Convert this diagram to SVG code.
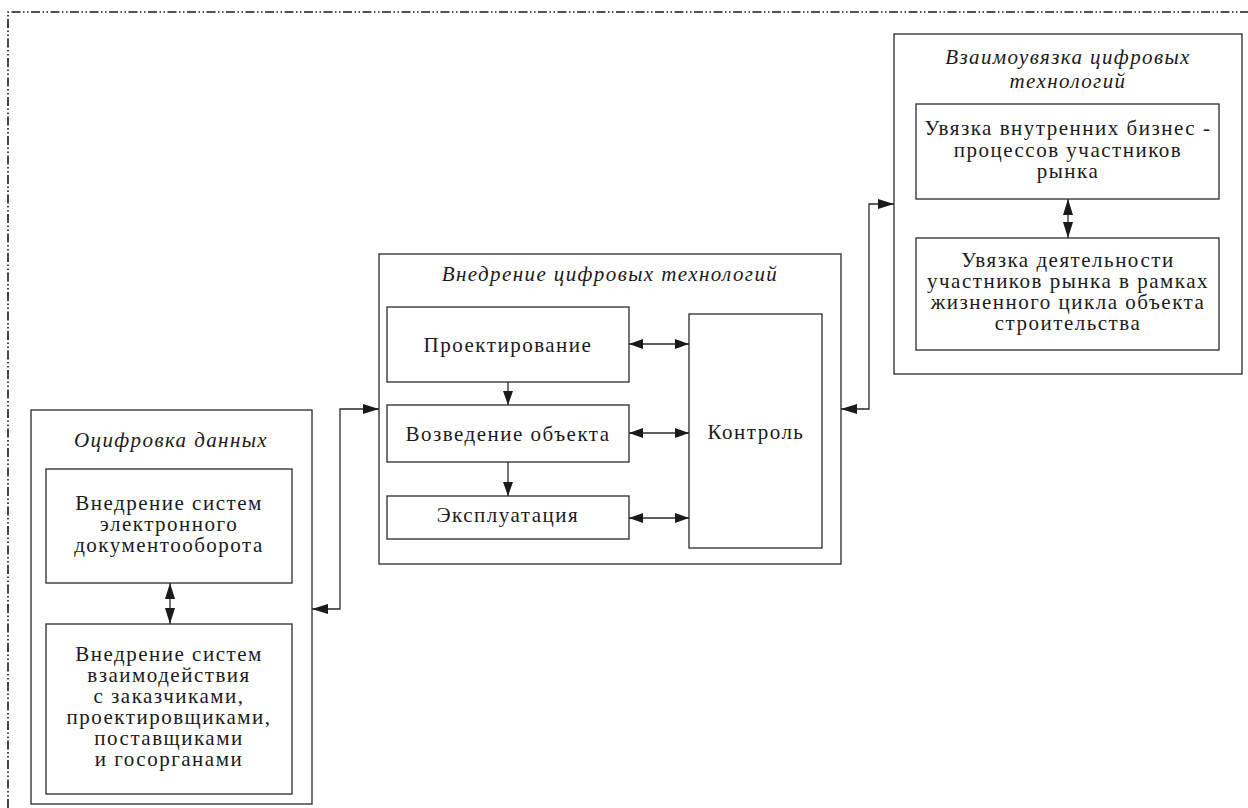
<svg xmlns="http://www.w3.org/2000/svg" width="1248" height="808" viewBox="0 0 1248 808">
<style>
.box{fill:#fff;stroke:#2a2a2a;stroke-width:1.3}
.t{font-family:"Liberation Serif","Times New Roman",serif;font-size:21px;fill:#1a1a1a;text-anchor:middle;letter-spacing:1.5px}
.ti{font-family:"Liberation Serif","Times New Roman",serif;font-size:21px;font-style:italic;fill:#1a1a1a;text-anchor:middle;letter-spacing:1.4px}
.ln{fill:none;stroke:#2a2a2a;stroke-width:1.3}
.frame{fill:none;stroke:#1a1a1a;stroke-width:1.6;stroke-dasharray:9 2.5 1.5 2.5 1.5 2.5}
</style>
<defs>
<marker id="a" markerUnits="userSpaceOnUse" markerWidth="16" markerHeight="10" refX="16" refY="5" orient="auto-start-reverse">
<path d="M0,0 L16,5 L0,10 z" fill="#1a1a1a"/>
</marker>
<marker id="s" markerUnits="userSpaceOnUse" markerWidth="14" markerHeight="10" refX="14" refY="5" orient="auto-start-reverse">
<path d="M0,0 L14,5 L0,10 z" fill="#1a1a1a"/>
</marker>
</defs>
<rect width="1248" height="808" fill="#fff"/>
<path class="frame" d="M8,808 V12 H1248"/>

<g id="digitization">
<rect class="box" x="31" y="410" width="281" height="394"/>
<text class="ti" x="171" y="447">Оцифровка данных</text>
</g>
<g id="edo">
<rect class="box" x="46" y="469" width="246" height="114"/>
<text class="t" x="169" y="510">Внедрение систем</text>
<text class="t" x="169" y="531">электронного</text>
<text class="t" x="169" y="552">документооборота</text>
</g>
<g id="interaction">
<rect class="box" x="46" y="624" width="246" height="170"/>
<text class="t" x="169" y="661">Внедрение систем</text>
<text class="t" x="169" y="682">взаимодействия</text>
<text class="t" x="169" y="703">с заказчиками,</text>
<text class="t" x="169" y="724">проектировщиками,</text>
<text class="t" x="169" y="745">поставщиками</text>
<text class="t" x="169" y="766">и госорганами</text>
</g>

<g id="implementation">
<rect class="box" x="379" y="254" width="462" height="310"/>
<text class="ti" x="610" y="281">Внедрение цифровых технологий</text>
</g>
<g id="design">
<rect class="box" x="387" y="307" width="242" height="75"/>
<text class="t" x="508" y="352">Проектирование</text>
</g>
<g id="construction">
<rect class="box" x="387" y="405" width="242" height="57"/>
<text class="t" x="508" y="441">Возведение объекта</text>
</g>
<g id="operation">
<rect class="box" x="387" y="496" width="242" height="43"/>
<text class="t" x="508" y="522">Эксплуатация</text>
</g>
<g id="control">
<rect class="box" x="689" y="314" width="133" height="234"/>
<text class="t" x="756" y="439">Контроль</text>
</g>

<g id="integration">
<rect class="box" x="894" y="34" width="348" height="340"/>
<text class="ti" x="1068" y="64">Взаимоувязка цифровых</text>
<text class="ti" x="1068" y="88">технологий</text>
</g>
<g id="internal">
<rect class="box" x="916" y="104" width="303" height="95"/>
<text class="t" x="1068" y="135">Увязка внутренних бизнес -</text>
<text class="t" x="1068" y="157">процессов участников</text>
<text class="t" x="1068" y="178">рынка</text>
</g>
<g id="lifecycle">
<rect class="box" x="916" y="238" width="303" height="112"/>
<text class="t" x="1068" y="267">Увязка деятельности</text>
<text class="t" x="1068" y="288">участников рынка в рамках</text>
<text class="t" x="1068" y="309">жизненного цикла объекта</text>
<text class="t" x="1068" y="330">строительства</text>
</g>

<g id="connectors">
<path class="ln" d="M312,609 H340 V409 H379" marker-start="url(#a)" marker-end="url(#a)"/>
<path class="ln" d="M841,409 H869 V204 H894" marker-start="url(#a)" marker-end="url(#a)"/>
<path class="ln" d="M170,583 V624" marker-start="url(#a)" marker-end="url(#a)"/>
<path class="ln" d="M1068,199 V238" marker-start="url(#a)" marker-end="url(#a)"/>
<path class="ln" d="M629,344 H689" marker-start="url(#s)" marker-end="url(#s)"/>
<path class="ln" d="M629,433 H689" marker-start="url(#s)" marker-end="url(#s)"/>
<path class="ln" d="M629,518 H689" marker-start="url(#s)" marker-end="url(#s)"/>
<path class="ln" d="M508,382 V405" marker-end="url(#s)"/>
<path class="ln" d="M508,462 V496" marker-end="url(#s)"/>
</g>
</svg>
